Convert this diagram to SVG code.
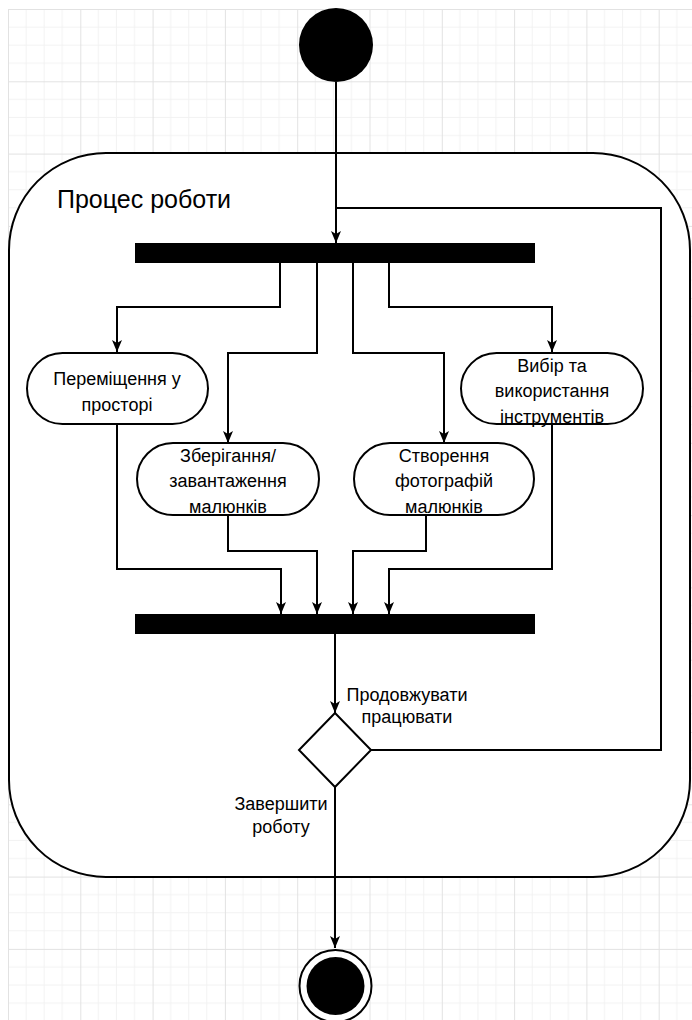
<svg xmlns="http://www.w3.org/2000/svg" width="692" height="1020" viewBox="0 0 692 1020">
  <style>
    .ln { fill: none; stroke: #000; stroke-width: 2; }
    .act { fill: #fff; stroke: #000; stroke-width: 2; }
    .bar { fill: #000; }
    .t { font-family: "Liberation Sans", Arial, sans-serif; font-size: 18px; fill: #000; text-anchor: middle; }
    .title { font-family: "Liberation Sans", Arial, sans-serif; font-size: 25px; fill: #000; }
  </style>
  <defs>
    <pattern id="grid" x="8" y="9" width="72.3" height="72.3" patternUnits="userSpaceOnUse">
      <path d="M18.075 0V72.3M36.15 0V72.3M54.225 0V72.3M0 18.075H72.3M0 36.15H72.3M0 54.225H72.3" stroke="#f2f2f2" stroke-width="1" fill="none"/>
      <path d="M0.5 0V72.3M0 0.5H72.3" stroke="#e2e2e2" stroke-width="1" fill="none"/>
    </pattern>
    <marker id="arr" viewBox="0 0 12 12" refX="12" refY="6" markerWidth="12" markerHeight="12" markerUnits="userSpaceOnUse" orient="auto">
      <path d="M0,1 L12,6 L0,11 L3,6 Z" fill="#000"/>
    </marker>
  </defs>

  <!-- background with drawing grid -->
  <rect width="692" height="1020" fill="#fff"/>
  <rect x="8" y="9" width="684" height="1011" fill="url(#grid)"/>

  <!-- composite state frame -->
  <g id="frame">
    <rect x="9" y="153" width="681" height="724" rx="97" ry="97" class="act"/>
    <text x="57" y="208" class="title">Процес роботи</text>
  </g>

  <!-- connectors -->
  <g id="connectors">
    <path d="M336 82V243" class="ln" marker-end="url(#arr)"/>
    <path d="M371 750H661V208H336" class="ln"/>
    <path d="M280 263V307H117V352" class="ln" marker-end="url(#arr)"/>
    <path d="M317 263V353H228V443" class="ln" marker-end="url(#arr)"/>
    <path d="M353 263V353H444V443" class="ln" marker-end="url(#arr)"/>
    <path d="M389 263V307H552V352" class="ln" marker-end="url(#arr)"/>
    <path d="M117 424V569H281V614" class="ln" marker-end="url(#arr)"/>
    <path d="M228 515V551H317V614" class="ln" marker-end="url(#arr)"/>
    <path d="M426 515V551H353V614" class="ln" marker-end="url(#arr)"/>
    <path d="M552 424V569H389V614" class="ln" marker-end="url(#arr)"/>
    <path d="M335 633V713" class="ln" marker-end="url(#arr)"/>
    <path d="M335 787V948" class="ln" marker-end="url(#arr)"/>
    <text x="407" y="701" class="t">Продовжувати</text>
    <text x="407" y="723" class="t">працювати</text>
    <text x="281" y="810" class="t">Завершити</text>
    <text x="281" y="833" class="t">роботу</text>
  </g>

  <g id="start">
    <circle cx="336" cy="45" r="37" fill="#000"/>
  </g>

  <g id="fork">
    <rect x="135" y="243" width="400" height="20" class="bar"/>
  </g>

  <g id="move">
    <rect x="27" y="353" width="181" height="71" rx="35.5" class="act"/>
    <text x="117" y="385" class="t">Переміщення у</text>
    <text x="117" y="411" class="t">просторі</text>
  </g>

  <g id="save">
    <rect x="137" y="443" width="182" height="72" rx="36" class="act"/>
    <text x="228" y="462" class="t">Зберігання/</text>
    <text x="228" y="487" class="t">завантаження</text>
    <text x="228" y="513" class="t">малюнків</text>
  </g>

  <g id="photo">
    <rect x="354" y="443" width="180" height="72" rx="36" class="act"/>
    <text x="444" y="462" class="t">Створення</text>
    <text x="444" y="487" class="t">фотографій</text>
    <text x="444" y="513" class="t">малюнків</text>
  </g>

  <g id="tools">
    <rect x="461" y="353" width="182" height="71" rx="35.5" class="act"/>
    <text x="552" y="372" class="t">Вибір та</text>
    <text x="552" y="397" class="t">використання</text>
    <text x="552" y="423" class="t">інструментів</text>
  </g>

  <g id="join">
    <rect x="135" y="614" width="400" height="20" class="bar"/>
  </g>

  <g id="decision">
    <path d="M335 713L371 750L335 787L299 750Z" class="act"/>
  </g>

  <g id="end">
    <circle cx="335.5" cy="986" r="36" fill="#fff" stroke="#000" stroke-width="2"/>
    <circle cx="335.5" cy="986" r="29" fill="#000"/>
  </g>
</svg>
